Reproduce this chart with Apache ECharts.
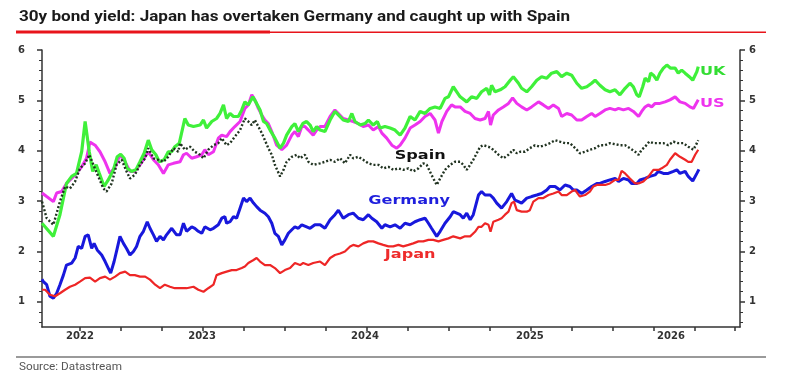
<!DOCTYPE html>
<html>
<head>
<meta charset="utf-8">
<script src="https://cdn.jsdelivr.net/npm/echarts@6/dist/echarts.min.js"></script>
<style>
html,body{margin:0;padding:0;background:#fff}
#chart{width:785px;height:384px}
</style>
</head>
<body>
<div id="chart"></div>
<script>
// x values are weeks from the start of the chart (mid 2022)
var ukWeeks = [0,3.3,5.2,7.1,8.6,10.0,11.5,12.5,13.7,14.7,15.7,16.6,18.0,19.2,20.7,21.8,22.8,23.8,24.7,26.0,27.2,28.4,29.6,30.8,31.8,33.0,34.0,35.4,36.6,37.6,38.5,39.8,
  41.4,42.4,43.9,45.8,46.8,47.7,49.2,50.6,51.6,52.6,53.5,54.5,55.5,56.9,57.9,58.8,59.8,61.1,62.2,63.2,64.2,65.1,66.1,67.5,69.0,70.0,70.9,72.4,73.3,74.3,75.6,76.7,77.7,78.6,79.6,
  80.6,82.0,83.5,84.9,85.9,87.3,88.8,89.8,90.7,92.2,93.6,94.6,96.0,97.2,98.0,99.4,100.9,102.3,103.8,105.2,106.7,108.1,109.6,111.0,112.5,113.9,115.4,116.8,117.8,119.2,120.2,
  121.2,123.1,124.5,126.0,127.4,128.9,129.7,130.3,131.3,132.8,134.2,135.7,136.6,138.1,139.0,140.5,141.9,143.4,144.8,146.3,147.7,149.2,150.6,152.1,153.5,155.0,156.4,157.9,159.3,160.3,
  161.7,163.2,164.6,166.1,167.5,169.0,170.4,171.4,172.4,173.1,174.1,174.8,175.8,176.4,177.2,178.2,179.1,180.1,181.1,182.2,183.5,184.4,185.4,186.4,187.6,188.6,189.8,190.2];
var ukYield = [2.56,2.30,2.73,3.35,3.49,3.55,3.98,4.58,3.98,3.59,3.72,3.55,3.29,3.42,3.62,3.88,3.93,3.85,3.65,3.59,3.62,3.78,3.95,4.21,4.02,3.92,3.78,3.82,3.98,3.98,4.08,4.15,
  4.64,4.51,4.48,4.51,4.61,4.45,4.58,4.64,4.74,4.91,4.64,4.74,4.68,4.68,4.81,4.97,4.91,5.07,4.94,4.81,4.58,4.54,4.41,4.25,4.05,4.15,4.31,4.48,4.54,4.38,4.54,4.58,4.51,4.38,4.48,
  4.41,4.38,4.61,4.78,4.71,4.61,4.58,4.74,4.58,4.51,4.54,4.61,4.51,4.58,4.45,4.48,4.45,4.41,4.31,4.45,4.68,4.61,4.78,4.74,4.84,4.87,4.84,5.04,5.07,5.27,5.17,
  5.07,4.97,5.07,5.04,5.17,5.24,5.11,5.30,5.17,5.21,5.27,5.40,5.47,5.34,5.24,5.17,5.27,5.40,5.47,5.44,5.54,5.57,5.47,5.54,5.50,5.34,5.24,5.27,5.34,5.40,
  5.30,5.21,5.17,5.21,5.11,5.24,5.34,5.27,5.11,5.07,5.27,5.44,5.37,5.54,5.50,5.40,5.54,5.64,5.70,5.64,5.64,5.54,5.60,5.54,5.47,5.40,5.57,5.67];

var usWeeks = [0,1.35,3.3,4.25,5.7,7.1,8.6,10.0,11.5,12.9,13.9,15.4,16.8,18.3,19.7,21.2,22.6,24.1,25.5,26.9,28.4,29.9,30.8,32.3,33.7,35.2,36.6,38.1,
  40.0,41.0,41.9,43.4,44.8,46.3,47.2,48.2,49.7,51.1,52.1,53.5,54.5,55.9,57.4,58.8,59.8,60.8,61.7,62.7,63.7,64.6,65.6,66.6,68.0,69.5,70.9,72.4,73.3,74.3,75.3,76.2,77.2,78.6,79.6,
  80.6,82.0,83.5,84.9,85.9,87.3,88.8,90.2,91.7,93.1,94.6,96.0,97.5,98.5,99.9,101.4,102.8,103.8,105.2,106.7,108.1,109.6,111.0,112.5,113.9,114.9,115.9,117.3,118.7,119.7,
  121.2,122.6,124.1,125.5,127.0,128.4,129.4,130.0,130.8,132.3,133.7,135.2,136.4,137.6,139.0,140.5,141.9,143.9,145.3,146.8,148.2,149.7,150.6,152.1,153.5,155.0,156.4,157.9,159.3,160.3,
  161.7,163.2,164.6,166.1,167.1,168.5,170.0,171.4,172.9,173.8,174.8,175.7,176.7,177.7,179.1,180.6,182.0,183.5,184.9,186.4,187.8,188.8,190.2];
var usYield = [3.16,3.09,2.99,3.16,3.19,3.35,3.45,3.55,3.68,3.85,4.17,4.11,3.98,3.78,3.55,3.68,3.92,3.78,3.59,3.59,3.72,3.88,3.98,3.82,3.72,3.55,3.72,3.75,
  3.78,3.92,3.95,3.85,3.88,3.92,4.02,3.92,3.98,4.25,4.31,4.28,4.38,4.48,4.58,4.84,4.91,5.11,5.01,4.84,4.71,4.61,4.54,4.38,4.11,4.02,4.11,4.31,4.38,4.28,4.48,4.48,4.41,4.31,4.41,
  4.48,4.48,4.68,4.81,4.74,4.64,4.61,4.58,4.54,4.48,4.51,4.41,4.48,4.35,4.25,4.11,4.05,4.11,4.25,4.45,4.51,4.58,4.68,4.74,4.61,4.35,4.58,4.78,4.91,4.87,
  4.87,4.78,4.74,4.64,4.61,4.64,4.78,4.51,4.71,4.81,4.87,4.94,5.05,4.94,4.87,4.81,4.87,4.97,4.91,4.84,4.91,4.84,4.68,4.74,4.71,4.61,4.61,4.68,4.74,4.68,
  4.74,4.81,4.84,4.81,4.84,4.81,4.84,4.78,4.68,4.78,4.87,4.91,4.87,4.94,4.94,4.97,5.01,5.07,4.97,4.94,4.87,4.84,5.01];

var spainWeeks = [0,1.35,3.3,5.2,6.7,8.1,9.6,11.0,12.5,13.7,14.9,16.3,17.8,18.7,20.2,21.6,23.1,24.5,25.5,26.9,28.4,29.9,30.8,32.3,33.7,35.2,36.6,38.1,39.5,
  40.0,41.4,42.9,44.3,45.8,46.8,48.2,49.7,51.1,52.1,53.5,54.5,55.9,57.4,58.8,59.8,60.8,61.7,62.7,63.7,64.6,65.6,66.6,67.5,69.0,70.0,70.9,72.4,73.8,74.8,76.2,77.2,78.6,
  80.6,82.0,83.5,84.9,86.4,87.8,89.3,90.2,91.7,93.1,94.6,96.0,97.5,98.9,100.4,101.8,103.3,104.7,106.2,107.6,109.1,110.5,111.5,112.9,114.4,115.4,116.8,118.3,119.7,
  121.2,122.1,123.1,124.1,125.0,126.0,127.0,127.9,129.4,130.8,132.3,133.7,135.2,136.6,137.6,138.6,140.0,141.4,142.9,144.3,145.8,147.2,148.7,150.1,151.6,153.0,155.0,155.9,157.4,158.8,160.3,
  161.7,163.2,164.6,166.1,167.5,169.0,170.4,171.9,172.9,173.8,174.8,176.0,177.2,178.7,180.1,181.5,183.0,184.4,185.9,187.3,188.8,189.8,190.2];
var spainYield = [2.99,2.66,2.53,2.99,3.29,3.25,3.39,3.65,3.75,3.92,3.72,3.49,3.25,3.19,3.35,3.72,3.82,3.59,3.45,3.52,3.72,3.85,4.05,3.85,3.82,3.78,3.88,4.05,3.98,
  4.15,4.02,4.08,3.98,3.92,3.85,4.02,4.11,4.15,4.25,4.11,4.15,4.28,4.41,4.64,4.58,4.51,4.61,4.48,4.35,4.21,4.05,3.92,3.72,3.49,3.62,3.78,3.88,3.92,3.85,3.92,3.78,3.72,
  3.75,3.78,3.82,3.78,3.85,3.75,3.92,3.85,3.88,3.82,3.75,3.72,3.72,3.65,3.68,3.62,3.65,3.62,3.65,3.59,3.65,3.75,3.72,3.52,3.32,3.45,3.62,3.72,3.78,
  3.78,3.72,3.62,3.72,3.82,3.95,4.08,4.11,4.08,4.02,3.92,3.85,3.92,4.02,3.95,3.98,3.98,4.05,4.11,4.08,4.11,4.15,4.21,4.18,4.15,4.15,4.02,3.95,3.98,4.02,4.05,
  4.11,4.11,4.15,4.13,4.11,4.11,4.05,3.98,3.92,4.02,4.08,4.18,4.15,4.15,4.15,4.11,4.18,4.15,4.15,4.08,4.02,4.15,4.21];

var germanyWeeks = [0,0.4,1.35,2.3,3.3,4.25,5.2,6.2,7.1,8.6,9.6,10.5,11.5,12.5,13.4,14.4,15.1,16.0,17.3,18.3,19.2,19.9,20.9,21.8,22.6,23.6,24.5,25.5,26.5,27.4,28.4,29.4,30.5,31.3,32.3,33.2,34.2,35.2,36.1,37.6,39.0,
  40.0,41.0,41.9,43.4,44.3,45.3,46.3,47.2,48.7,49.7,51.1,52.1,53.0,53.5,54.5,55.5,56.4,57.4,58.4,59.3,60.3,61.3,62.2,63.2,64.6,65.6,66.6,67.5,68.5,69.5,70.4,71.4,72.4,73.3,74.3,75.3,76.7,77.7,79.1,
  80.6,82.0,83.5,84.9,85.9,87.3,88.8,90.2,91.7,93.1,94.6,95.6,97.0,98.5,99.4,100.9,102.3,103.8,105.2,106.7,108.1,109.6,111.0,112.0,112.9,114.4,115.4,116.8,118.3,119.2,120.2,
  121.2,122.1,123.1,124.1,125.0,126.5,127.4,128.4,129.9,130.8,131.8,133.2,134.7,136.1,137.1,138.1,139.0,140.5,141.9,143.4,144.8,146.3,147.2,148.7,150.1,151.6,153.0,154.0,155.0,156.4,157.9,159.3,160.8,
  161.7,163.2,164.6,166.1,167.1,168.5,170.0,170.9,172.4,173.3,174.8,176.2,177.7,178.6,180.1,181.5,183.0,184.0,184.9,186.4,187.3,188.6,189.8,190.4];
var germanyYield = [1.45,1.40,1.34,1.11,1.07,1.17,1.34,1.53,1.73,1.77,1.87,2.10,2.06,2.30,2.33,2.06,2.16,2.03,1.93,1.80,1.67,1.57,1.80,2.06,2.30,2.16,2.06,1.93,2.00,2.10,2.30,2.40,2.59,2.46,2.33,2.20,2.30,2.23,2.33,2.46,2.33,
  2.33,2.56,2.40,2.49,2.46,2.40,2.36,2.49,2.43,2.46,2.53,2.66,2.69,2.56,2.59,2.69,2.66,2.86,3.06,2.99,3.06,2.96,2.89,2.82,2.76,2.69,2.56,2.36,2.30,2.13,2.23,2.36,2.43,2.49,2.46,2.53,2.49,2.46,2.53,
  2.53,2.46,2.63,2.73,2.82,2.66,2.73,2.76,2.66,2.63,2.73,2.66,2.59,2.46,2.53,2.49,2.53,2.46,2.56,2.53,2.59,2.63,2.66,2.56,2.46,2.30,2.40,2.56,2.69,2.79,2.76,
  2.73,2.66,2.76,2.63,2.73,3.12,3.19,3.12,3.12,3.06,2.96,2.86,2.99,3.15,3.02,2.99,2.96,3.06,3.09,3.12,3.15,3.22,3.29,3.29,3.22,3.32,3.29,3.22,3.22,3.15,3.22,3.29,3.35,
  3.35,3.39,3.42,3.45,3.39,3.45,3.42,3.35,3.35,3.42,3.45,3.49,3.52,3.59,3.55,3.55,3.59,3.62,3.55,3.59,3.49,3.40,3.55,3.63];

var japanWeeks = [0,0.9,2.3,3.8,5.2,6.7,8.1,9.6,11.0,12.5,13.9,15.4,16.8,18.3,19.7,21.2,22.6,24.1,25.5,26.9,28.4,29.9,31.3,32.8,34.2,35.6,37.1,38.5,
  40.0,41.9,43.9,45.3,46.8,48.2,49.7,50.6,52.1,53.5,55.0,56.4,57.9,58.8,59.8,61.3,62.2,63.2,64.6,66.1,67.5,69.0,70.4,71.9,73.3,74.8,75.7,77.2,78.6,
  80.6,82.0,83.5,84.9,86.4,87.8,89.3,90.2,91.7,93.1,94.6,96.0,97.5,98.9,100.4,101.8,103.3,104.7,106.2,107.6,109.1,110.5,112.0,113.4,114.9,116.3,117.8,119.2,
  121.2,122.6,124.1,125.5,126.5,127.4,128.4,129.4,130.0,130.8,132.3,133.2,134.2,135.2,136.1,136.8,137.6,139.0,140.5,141.4,142.4,143.9,145.3,146.8,148.2,149.7,150.6,152.1,153.5,154.5,155.9,157.4,158.8,159.8,160.8,
  161.7,163.2,164.6,166.1,167.1,168.0,169.0,170.4,171.9,172.9,174.3,175.8,177.2,178.7,179.6,181.1,182.0,183.5,184.9,186.4,187.3,188.3,189.3,190.2];
var japanYield = [1.24,1.24,1.14,1.11,1.17,1.24,1.30,1.34,1.40,1.47,1.48,1.40,1.47,1.50,1.44,1.50,1.57,1.60,1.53,1.53,1.50,1.50,1.44,1.34,1.27,1.34,1.30,1.27,
  1.27,1.27,1.30,1.24,1.20,1.27,1.34,1.53,1.57,1.60,1.63,1.63,1.67,1.70,1.77,1.83,1.87,1.80,1.73,1.73,1.67,1.57,1.63,1.67,1.77,1.73,1.77,1.73,1.77,
  1.80,1.73,1.87,1.93,1.96,2.00,2.10,2.13,2.10,2.16,2.20,2.20,2.16,2.13,2.10,2.10,2.13,2.10,2.13,2.16,2.20,2.20,2.23,2.23,2.20,2.23,2.26,2.30,
  2.26,2.30,2.30,2.39,2.49,2.49,2.56,2.53,2.39,2.59,2.63,2.66,2.73,2.79,2.96,2.99,2.82,2.79,2.79,2.82,2.99,3.06,3.06,3.12,3.15,3.19,3.12,3.12,3.19,3.22,3.09,3.12,3.19,3.29,3.32,
  3.32,3.32,3.35,3.42,3.42,3.60,3.55,3.45,3.35,3.35,3.39,3.49,3.62,3.62,3.65,3.72,3.82,3.95,3.88,3.82,3.78,3.78,3.92,4.02];

// x axis: tick positions and year labels (in weeks)
var xTickWeeks = [11.0,22.9,34.7,46.6,58.5,70.4,82.2,94.1,106.0,117.8,129.7,141.6,153.5,165.3,177.2,189.1,200.9];
var xLabelWeeks = [11.0,46.4,93.6,141.4,182.3];
var yearLabels = ['2022','2023','2024','2025','2026'];

// y axis ticks
var yMajor = [1,2,3,4,5,6];
var yMinor = [0.6,0.8,1.2,1.4,1.6,1.8,2.2,2.4,2.6,2.8,3.2,3.4,3.6,3.8,4.2,4.4,4.6,4.8,5.2,5.4,5.6,5.8];

// in-chart series names
var tagNames = ['UK','US','Spain','Germany','Japan'];
var tagWeeks = [190.7,190.7,109.6,106.4,106.7];
var tagYields = [5.56,4.93,3.90,3.01,1.93];
var tagColors = ['#33dd33','#ee33ee','#111111','#1f1fdd','#ee2b2b'];
var tagAligns = ['left','left','center','center','center'];

var titleText = '30y bond yield: Japan has overtaken Germany and caught up with Spain';
var sourceText = 'Source: Datastream';

function zip(xs, ys){
	var out = [];
	for (var i = 0; i < xs.length; i++) out.push([xs[i], ys[i]]);
	return out;
}

function fitScale(text, font, target){
	var ctx = document.createElement('canvas').getContext('2d');
	ctx.font = font;
	return target / ctx.measureText(text).width;
}

var titleFont = 'bold 15px Roboto';
var sourceFont = '11px Roboto';

var chart = echarts.init(document.getElementById('chart'));

function yAxisPair(side, margin){
	var lineCol = '#333';
	return [{
		type: 'value', min: 0.5, max: 6, position: side,
		axisLine: {show: true, lineStyle: {color: lineCol, width: 1.5}},
		axisTick: {show: true, customValues: yMajor, length: 5, lineStyle: {color: lineCol, width: 1.5}},
		axisLabel: {customValues: yMajor, margin: margin, color: '#333', fontFamily: 'DejaVu Sans', fontWeight: 'bold', fontSize: 10},
		splitLine: {show: false}
	}, {
		type: 'value', min: 0.5, max: 6, position: side,
		axisLine: {show: false},
		axisTick: {show: true, customValues: yMinor, length: 3, lineStyle: {color: lineCol, width: 1}},
		axisLabel: {show: false},
		splitLine: {show: false}
	}];
}

function lineSeries(name, xs, ys, color, width, type){
	return {
		name: name, type: 'line', data: zip(xs, ys),
		showSymbol: false, symbol: 'none', smooth: false,
		lineStyle: {color: color, width: width, type: type || 'solid'},
		xAxisIndex: 0, yAxisIndex: 0
	};
}

var option = {
	animation: false,
	backgroundColor: '#fff',
	grid: {left: 42, right: 45, top: 50, bottom: 57},
	xAxis: {
		type: 'value', min: 0, max: 202.3,
		axisLine: {lineStyle: {color: '#333', width: 1.5}},
		axisTick: {customValues: xTickWeeks, length: 4, lineStyle: {color: '#333', width: 1.5}},
		axisLabel: {
			customValues: xLabelWeeks, margin: 4,
			color: '#333', fontFamily: 'DejaVu Sans', fontWeight: 'bold', fontSize: 10,
			formatter: function(v){
				for (var i = 0; i < xLabelWeeks.length; i++) {
					if (Math.abs(v - xLabelWeeks[i]) < 0.01) return yearLabels[i];
				}
				return '';
			}
		},
		splitLine: {show: false}
	},
	yAxis: yAxisPair('left', 17).concat(yAxisPair('right', 9)),
	series: [
		lineSeries('US', usWeeks, usYield, '#ee33ee', 3),
		lineSeries('UK', ukWeeks, ukYield, '#3ff03a', 3.2),
		lineSeries('Spain', spainWeeks, spainYield, '#213321', 2.4, [2, 2]),
		lineSeries('Germany', germanyWeeks, germanyYield, '#1818dc', 3),
		lineSeries('Japan', japanWeeks, japanYield, '#ee2626', 2.2),
		{
			type: 'custom', silent: true, clip: false, z: 10,
			data: zip(tagWeeks, tagYields),
			renderItem: function(params, api){
				var i = params.dataIndex;
				var p = api.coord([api.value(0), api.value(1)]);
				return {
					type: 'text', x: p[0], y: p[1], scaleX: 1.4,
					style: {text: tagNames[i], fill: tagColors[i], font: 'bold 11.5px "DejaVu Sans"', align: tagAligns[i], verticalAlign: 'middle'}
				};
			}
		}
	],
	graphic: [
		{type: 'text', x: 19, y: 17, scaleX: fitScale(titleText, titleFont, 551),
			style: {text: titleText, font: titleFont, fill: '#1a1a1a', verticalAlign: 'middle'}},
		{type: 'rect', shape: {x: 16, y: 31.5, width: 750, height: 1.5}, style: {fill: '#e8141b'}},
		{type: 'rect', shape: {x: 16, y: 30.5, width: 254, height: 3}, style: {fill: '#e8141b'}},
		{type: 'rect', shape: {x: 16, y: 356, width: 750, height: 2}, style: {fill: '#9a9a9a'}},
		{type: 'text', x: 19, y: 367, scaleX: fitScale(sourceText, sourceFont, 103),
			style: {text: sourceText, font: sourceFont, fill: '#555', verticalAlign: 'middle'}}
	]
};

chart.setOption(option);
</script>
</body>
</html>
